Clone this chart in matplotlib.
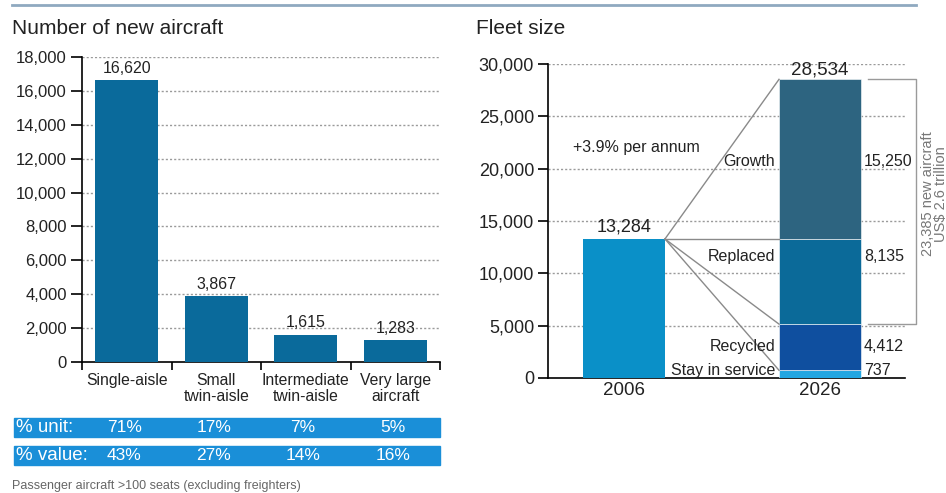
import matplotlib
matplotlib.use("Agg")
import matplotlib.pyplot as plt
from matplotlib.patches import Rectangle
from matplotlib.lines import Line2D
import matplotlib.transforms as mtransforms

plt.rcParams['font.family'] = ['Liberation Sans', 'DejaVu Sans']

# ---------------- data ----------------
categories = ["Single-aisle", "Small\ntwin-aisle", "Intermediate\ntwin-aisle", "Very large\naircraft"]
new_aircraft = [16620, 3867, 1615, 1283]
pct_unit = ["71%", "17%", "7%", "5%"]
pct_value = ["43%", "27%", "14%", "16%"]

years = ["2006", "2026"]
fleet_2006 = 13284
stack_labels = ["Stay in service", "Recycled", "Replaced", "Growth"]
stack_values = [737, 4412, 8135, 15250]
fleet_2026 = 28534
growth_note = "+3.9% per annum"
bracket_text = "23,385 new aircraft\nUS$ 2.6 trillion"

left_yticks = [0, 2000, 4000, 6000, 8000, 10000, 12000, 14000, 16000, 18000]
right_yticks = [0, 5000, 10000, 15000, 20000, 25000, 30000]

# ---------------- styles ----------------
W, H = 946, 493
fig = plt.figure(figsize=(W / 100, H / 100), dpi=100)

def fx(px):
    return px / W

def fy(py):
    return 1 - py / H

txt = "#222222"
bar_col = "#0a6a9b"
c2006 = "#0a90c8"
stack_cols = ["#22a6e2", "#0f4f9f", "#0b6a99", "#2d6480"]
band_col = "#1a8fd8"
grid_kw = dict(color="#9a9a9a", linestyle=(0, (1.5, 1.5)), linewidth=1.0)

# top rule
fig.add_artist(Line2D([fx(12), fx(916)], [fy(5), fy(5)], color="#8fa9c0", linewidth=2))

# ---------------- left chart ----------------
axL = fig.add_axes([fx(82), fy(362), fx(440) - fx(82), fy(57) - fy(362)])
x = list(range(len(categories)))
axL.bar(x, new_aircraft, width=0.7, color=bar_col, zorder=3)
axL.set_xlim(-0.5, len(categories) - 0.5)
axL.set_ylim(0, 18000)
axL.set_yticks(left_yticks)
axL.set_yticklabels([f"{v:,}" for v in left_yticks], fontsize=12, color=txt)
for v in left_yticks[1:]:
    axL.axhline(v, zorder=1, **grid_kw)
for s in ["top", "right"]:
    axL.spines[s].set_visible(False)
axL.spines["left"].set_linewidth(1.2)
axL.spines["bottom"].set_linewidth(1.2)
axL.tick_params(axis="y", length=8, width=1.2, pad=3)
axL.set_xticks([i - 0.5 for i in range(len(categories) + 1)])
axL.set_xticklabels([])
axL.tick_params(axis="x", length=6, width=1.2, direction="out")
for i, c in enumerate(categories):
    axL.text(i, -650, c, ha="center", va="top", fontsize=11.3, linespacing=1.05, color=txt)
for i, v in enumerate(new_aircraft):
    axL.text(i, v + 250, f"{v:,}", ha="center", va="bottom", fontsize=11.5, color=txt)

fig.text(fx(12), fy(28), "Number of new aircraft", fontsize=15, va="center", ha="left", color=txt)

# table bands
trans = mtransforms.blended_transform_factory(axL.transData, fig.transFigure)
for (y0, y1, lab, vals) in [(418, 437, "% unit:", pct_unit), (446, 465, "% value:", pct_value)]:
    fig.add_artist(Rectangle((fx(14), fy(y1)), fx(440) - fx(14), fy(y0) - fy(y1),
                             transform=fig.transFigure, color=band_col, zorder=0))
    ym = fy((y0 + y1) / 2)
    fig.text(fx(16), ym, lab, fontsize=13.5, color="white", va="center", ha="left")
    for i, v in enumerate(vals):
        fig.text(i - 0.03, ym, v, transform=trans, fontsize=12.5, color="white", va="center", ha="center")

fig.text(fx(12), fy(486), "Passenger aircraft >100 seats (excluding freighters)",
         fontsize=9, color="#666666", va="center", ha="left")

# ---------------- right chart ----------------
axR = fig.add_axes([fx(548), fy(378), fx(905) - fx(548), fy(64) - fy(378)])
bw = 0.418
axR.bar(0, fleet_2006, width=bw, color=c2006, zorder=3)
bottom = 0
tops = []
for v, c in zip(stack_values, stack_cols):
    axR.bar(1, v, bottom=bottom, width=bw, color=c, zorder=3, edgecolor="white", linewidth=0.4)
    bottom += v
    tops.append(bottom)
axR.set_xlim(-0.388, 1.434)
axR.set_ylim(0, 30000)
axR.set_yticks(right_yticks)
axR.set_yticklabels([f"{v:,}" for v in right_yticks], fontsize=13, color=txt)
for v in right_yticks[1:]:
    axR.axhline(v, zorder=1, **grid_kw)
for s in ["top", "right"]:
    axR.spines[s].set_visible(False)
axR.spines["left"].set_linewidth(1.2)
axR.spines["bottom"].set_linewidth(1.2)
axR.tick_params(axis="y", length=7, width=1.2, pad=3)
axR.set_xticks([0, 1])
axR.set_xticklabels(years, fontsize=13.5, color=txt)
axR.tick_params(axis="x", length=0, pad=3)

# connector lines
x0 = bw / 2
x1 = 1 - bw / 2
for t in [tops[3], tops[2], tops[1], tops[0]]:
    axR.plot([x0, x1], [fleet_2006, t], color="#8a8a8a", linewidth=1.0, zorder=4)

axR.text(0, fleet_2006 + 300, f"{fleet_2006:,}", ha="center", va="bottom", fontsize=13, color=txt, zorder=5)
axR.text(1, fleet_2026 + 100, f"{fleet_2026:,}", ha="center", va="bottom", fontsize=13.5, color=txt, zorder=5)
axR.text(-0.26, 22000, growth_note, ha="left", va="center", fontsize=11.5, color=txt)

label_y = [700, 3050, 11650, 20650]
for lab, v, ly in zip(stack_labels, stack_values, label_y):
    axR.text(x1 - 0.02, ly, lab, ha="right", va="center", fontsize=11.5, color=txt, zorder=5)
    axR.text(1 + bw / 2 + 0.015, ly, f"{v:,}", ha="left", va="center", fontsize=11.5, color=txt, zorder=5)

# bracket
bx0, bx1 = 1.245, 1.49
axR.plot([bx0, bx1, bx1, bx0], [fleet_2026, fleet_2026, tops[1], tops[1]],
         color="#9a9a9a", linewidth=1.0, clip_on=False, zorder=4)
axR.text(1.583, 17600, bracket_text, rotation=90, ha="center", va="center", fontsize=10.5,
         linespacing=0.9, color="#777777", clip_on=False, multialignment="center")

fig.text(fx(476), fy(28), "Fleet size", fontsize=15, va="center", ha="left", color=txt)

fig.savefig("out.png", dpi=100)
